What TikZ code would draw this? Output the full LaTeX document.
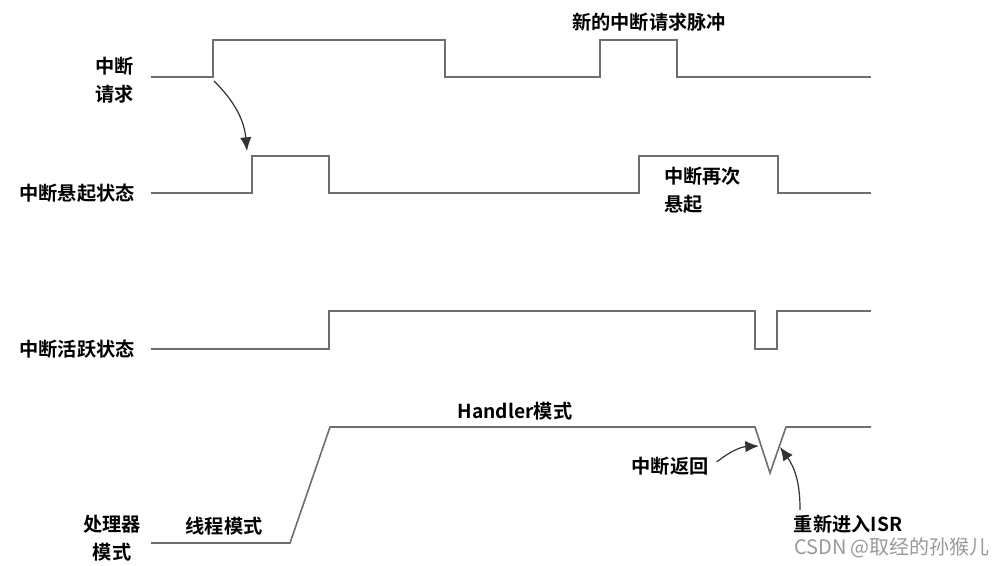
\documentclass[tikz,border=0pt]{standalone}
\usepackage{fontspec}
\newfontfamily\cjkbold{Noto Sans CJK SC Bold}
\newfontfamily\cjk{Noto Sans CJK SC}
\usetikzlibrary{arrows.meta,positioning}
\definecolor{wave}{RGB}{110,110,110}
\definecolor{note}{RGB}{50,50,50}
\tikzset{
    sig/.style={draw=wave,line width=1.2pt,line join=miter},
    lbl/.style={font=\cjkbold\fontsize{14.4}{21}\selectfont,inner sep=0pt},
    arrow/.style={-{Latex[length=3.6mm,width=3mm]},draw=note,line width=0.9pt}
}
\begin{document}
\begin{tikzpicture}[x=0.75pt,y=-0.75pt]
    \useasboundingbox (0,0) rectangle (1005,566);
    % waveforms
    \draw[sig] (151,77) -- (213,77) -- (213,40) -- (445,40) -- (445,77) -- (600,77)
        -- (600,40) -- (677,40) -- (677,77) -- (871,77);
    \draw[sig] (151,193) -- (252,193) -- (252,156) -- (329,156) -- (329,193) -- (639,193)
        -- (639,156) -- (778,156) -- (778,193) -- (871,193);
    \draw[sig] (151,349) -- (329,349) -- (329,311) -- (755,311) -- (755,349) -- (777,349)
        -- (777,311) -- (871,311);
    \draw[sig] (151,543) -- (290,543) -- (330,427) -- (755,427) -- (770,473) -- (786,427)
        -- (871,427);
    % labels
    \node[lbl,anchor=east,align=right] (req) at (134,80) {中断\\请求};
    \node[lbl,anchor=east] (pend) at (135,193) {中断悬起状态};
    \node[lbl,anchor=east] (act) at (135,349) {中断活跃状态};
    \node[lbl,align=center] (mode) at (112,538) {处理器\\模式};
    \node[lbl] (newreq) at (649,22) {新的中断请求脉冲};
    \node[lbl,align=left,anchor=west] (again) at (664,190) {中断再次\\悬起};
    \node[lbl] (thread) at (224,526) {线程模式};
    \node[lbl] (handler) at (515,411) {Handler模式};
    \node[lbl] (ret) at (670,466) {中断返回};
    \node[lbl] (reisr) at (848,524) {重新进入ISR};
    \node[font=\cjk\fontsize{15}{17}\selectfont,text=black!40,inner sep=0pt] (mark) at (892,548) {CSDN @取经的孙猴儿};
    % arrows
    \coordinate (rise) at (214,81);
    \coordinate (pendup) at (247,151);
    \coordinate (retpt) at (759,446);
    \coordinate (isrpt) at (780,447);
    \coordinate (isrfoot) at (800,510);
    \draw[arrow] (rise) to[bend left=20] (pendup);
    \draw[arrow] (ret.east) ++(8,-4) to[bend left=18] (retpt);
    \draw[arrow] (isrfoot) to[bend right=18] (isrpt);
\end{tikzpicture}
\end{document}
